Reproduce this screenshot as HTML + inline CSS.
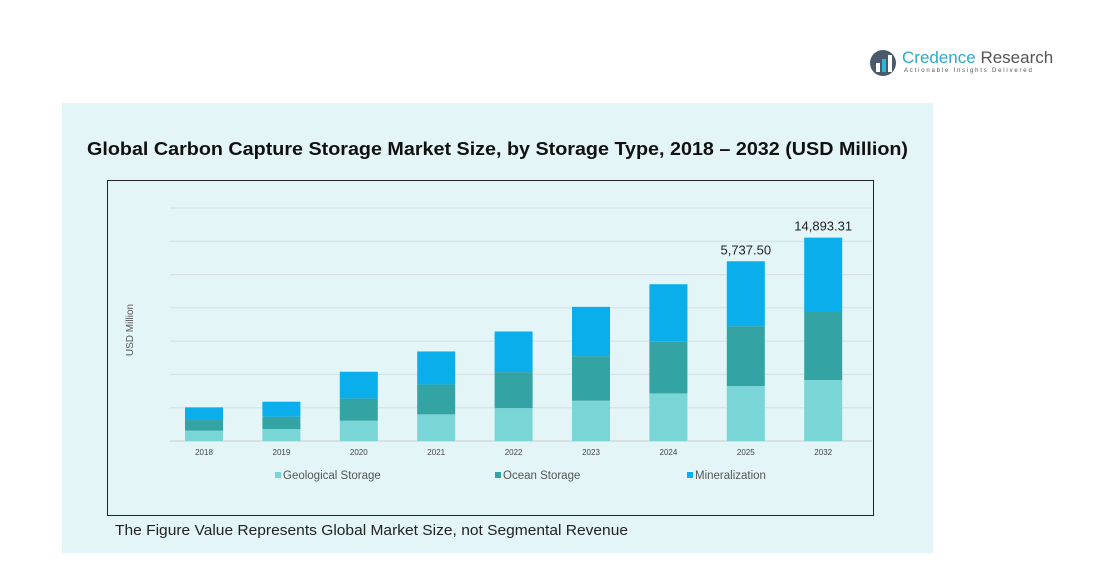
<!DOCTYPE html>
<html><head><meta charset="utf-8"><style>
body{margin:0;width:1102px;height:577px;background:#fff;font-family:"Liberation Sans",sans-serif;position:relative;overflow:hidden}
</style></head><body>
<div style="position:absolute;left:868px;top:47px;width:200px;height:36px">
<svg width="30" height="30" style="position:absolute;left:0;top:1px"><circle cx="15" cy="15" r="13" fill="#4a5a6a"/><rect x="8" y="15" width="4" height="9" fill="#fff"/><rect x="14" y="11" width="4" height="13" fill="#29b6d8"/><rect x="20" y="7" width="4" height="17" fill="#fff"/></svg>
<div style="position:absolute;left:34px;top:1px;font-size:17px;color:#2fa9c9;white-space:nowrap">Credence <span style="color:#555">Research</span></div>
<div style="position:absolute;left:36px;top:21px;font-size:6px;letter-spacing:1.8px;color:#555;white-space:nowrap">Actionable Insights Delivered</div>
</div>
<div style="position:absolute;left:62px;top:103px;width:871px;height:450px;background:#e4f5f7"></div>
<div style="position:absolute;left:107px;top:180px;width:765px;height:334px;border:1px solid #222"></div>
<svg id="chart" width="1102" height="577" style="position:absolute;left:0;top:0">
<text x="87" y="155" font-size="18.5" font-weight="bold" fill="#111" textLength="821" lengthAdjust="spacingAndGlyphs">Global Carbon Capture Storage Market Size, by Storage Type, 2018 – 2032 (USD Million)</text>
<text x="115" y="535" font-size="15" fill="#222" textLength="513" lengthAdjust="spacingAndGlyphs">The Figure Value Represents Global Market Size, not Segmental Revenue</text>
</svg>
<script>
const categories=["2018","2019","2020","2021","2022","2023","2024","2025","2032"];
const geological=[310,360,610,800,990,1210,1430,1650,1830];
const ocean=[320,370,670,900,1080,1340,1550,1800,2060];
const mineral=[380,450,800,990,1220,1480,1730,1950,2220];
const totalLabels=["","","","","","","","5,737.50","14,893.31"];
const yTicks=[0,1000,2000,3000,4000,5000,6000,7000];
const legendNames=["Geological Storage","Ocean Storage","Mineralization"];
const colors=["#79d5d6","#34a3a4","#0aaeea"];
const svg=document.getElementById('chart');const NS="http://www.w3.org/2000/svg";
const y0=441,yMax=7000,yH=233;
const y=v=>y0-v/yMax*yH;
const x=i=>204+i*77.4;
function mk(t,a){const e=document.createElementNS(NS,t);for(const k in a)e.setAttribute(k,a[k]);svg.appendChild(e);return e;}
yTicks.forEach(t=>{const l=mk('line',{x1:170,x2:872,y1:y(t),y2:y(t),stroke:t===0?'#ccc':'#d4dfe2','stroke-width':1});

});
const series=[geological,ocean,mineral];
categories.forEach((c,i)=>{let acc=0;
series.forEach((s,j)=>{const r=mk('rect',{x:x(i)-19,y:y(acc+s[i]),width:38,height:y(acc)-y(acc+s[i]),fill:colors[j]});


acc+=s[i];});
const tl=mk('text',{x:x(i),y:455,'font-size':8,fill:'#444','text-anchor':'middle'});tl.textContent=c;


if(totalLabels[i]){const v=mk('text',{x:x(i),y:y(acc)-7,'font-size':13,fill:'#222','text-anchor':'middle'});v.textContent=totalLabels[i];

}
});
const yt=mk('text',{x:133,y:330,'font-size':10,fill:'#555','text-anchor':'middle',transform:'rotate(-90 133 330)'});yt.textContent='USD Million';


const lx=[275,495,687];
legendNames.forEach((n,i)=>{const r=mk('rect',{x:lx[i],y:472,width:6,height:6,fill:colors[i]});


const t=mk('text',{x:lx[i]+8,y:479,'font-size':11.5,fill:'#555'});t.textContent=n;

});
</script>
</body></html>
